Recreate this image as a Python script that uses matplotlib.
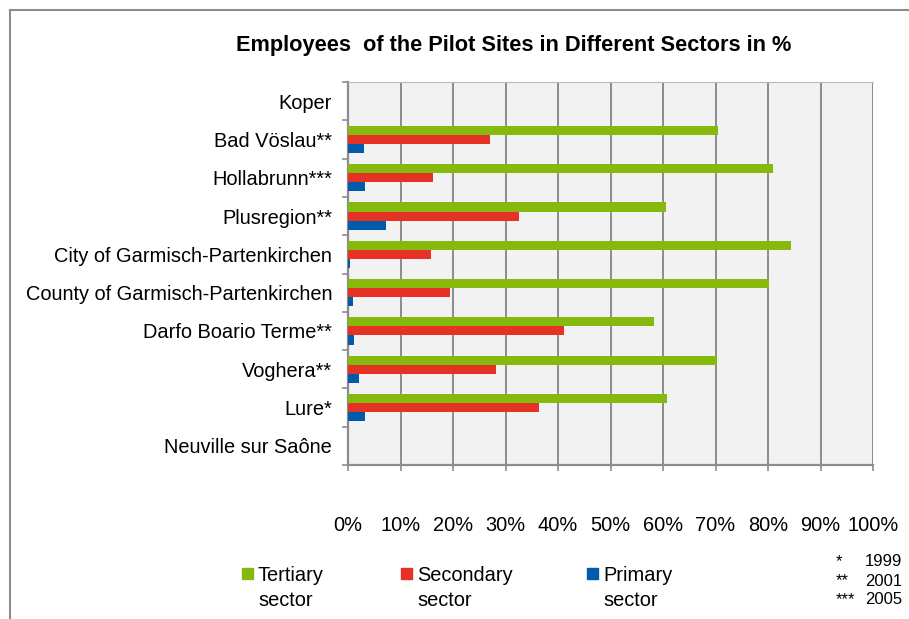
import matplotlib
matplotlib.use("Agg")
import matplotlib.pyplot as plt
from matplotlib.lines import Line2D
from matplotlib.patches import Rectangle
import numpy as np

plt.rcParams['font.family'] = ['Liberation Sans', 'DejaVu Sans']

# sites, listed top to bottom as in the chart
sites = ['Koper', 'Bad Vöslau**', 'Hollabrunn***', 'Plusregion**',
         'City of Garmisch-Partenkirchen', 'County of Garmisch-Partenkirchen',
         'Darfo Boario Terme**', 'Voghera**', 'Lure*', 'Neuville sur Saône']
tertiary = [0, 70.5, 80.9, 60.5, 84.3, 80.2, 58.2, 70.2, 60.8, 0]
secondary = [0, 27.0, 16.1, 32.6, 15.8, 19.5, 41.2, 28.1, 36.4, 0]
primary = [0, 3.0, 3.3, 7.2, 0.4, 0.9, 1.2, 2.0, 3.3, 0]

series_names = ['Tertiary\nsector', 'Secondary\nsector', 'Primary\nsector']
colors = ['#86B90D', '#E63224', '#005BAA']
footnote_marks = ['*', '**', '***']
footnote_years = ['1999', '2001', '2005']

W, H = 909, 619
fs = 14.4
fig = plt.figure(figsize=(W / 100, H / 100), dpi=100)
ax = fig.add_axes([348 / W, 1 - 465 / H, 525 / W, 383 / H])
ax.set_facecolor('#F2F2F2')

y = np.arange(len(sites))
bh = 0.237
for vals, off, c in zip([tertiary, secondary, primary], [-bh, 0, bh], colors):
    ax.barh(y + off, vals, height=bh, color=c, linewidth=0, zorder=3)

ax.set_xlim(0, 100)
ax.set_ylim(len(sites) - 0.5, -0.5)

ax.set_xticks(np.arange(0, 101, 10))
ax.set_xticklabels(['%d%%' % v for v in range(0, 101, 10)])
ax.xaxis.grid(True, color='#8C8C8C', linewidth=1.4, zorder=1)
ax.set_axisbelow(True)

# ticks at category boundaries, labels centred on categories
ax.set_yticks(np.arange(-0.5, len(sites), 1.0))
ax.set_yticklabels([])
ax.set_yticks(y, minor=True)
ax.set_yticklabels(sites, minor=True)
ax.tick_params(axis='y', which='major', length=4.5, width=1.2, color='#8C8C8C')
ax.tick_params(axis='y', which='minor', length=0, pad=11.5, labelsize=fs)
ax.tick_params(axis='x', length=4, width=1.2, color='#8C8C8C', pad=33, labelsize=fs)

ax.spines['right'].set_visible(False)
ax.spines['top'].set_color('#BBBBBB')
ax.spines['top'].set_linewidth(0.8)
for s in ['left', 'bottom']:
    ax.spines[s].set_color('#8C8C8C')
    ax.spines[s].set_linewidth(1.6)

fig.text(514 / W, 1 - 45 / H, 'Employees  of the Pilot Sites in Different Sectors in %',
         ha='center', va='center', fontsize=15.7, fontweight='bold')

# legend
leg_x = [241.5, 401, 586.5]
for lx, name, c in zip(leg_x, series_names, colors):
    fig.patches.append(Rectangle((lx / W, 1 - 579 / H), 11 / W, 11 / H,
                                 transform=fig.transFigure, color=c))
    fig.text((lx + 16.5) / W, 1 - 566 / H, name, ha='left', va='top',
             fontsize=fs, linespacing=1.42)

# footnotes
for i, (m, yr) in enumerate(zip(footnote_marks, footnote_years)):
    yy = 1 - (562 + 19 * i) / H
    fig.text(836 / W, yy, m, ha='left', va='center', fontsize=12)
    fig.text(902 / W, yy, yr, ha='right', va='center', fontsize=12)

# outer frame
fig.add_artist(Line2D([10 / W, 10 / W], [0, 1 - 10 / H], transform=fig.transFigure,
                      color='#8C8C8C', linewidth=1.5))
fig.add_artist(Line2D([10 / W, 1], [1 - 10 / H, 1 - 10 / H], transform=fig.transFigure,
                      color='#8C8C8C', linewidth=1.5))

fig.savefig('out.png', dpi=100)
